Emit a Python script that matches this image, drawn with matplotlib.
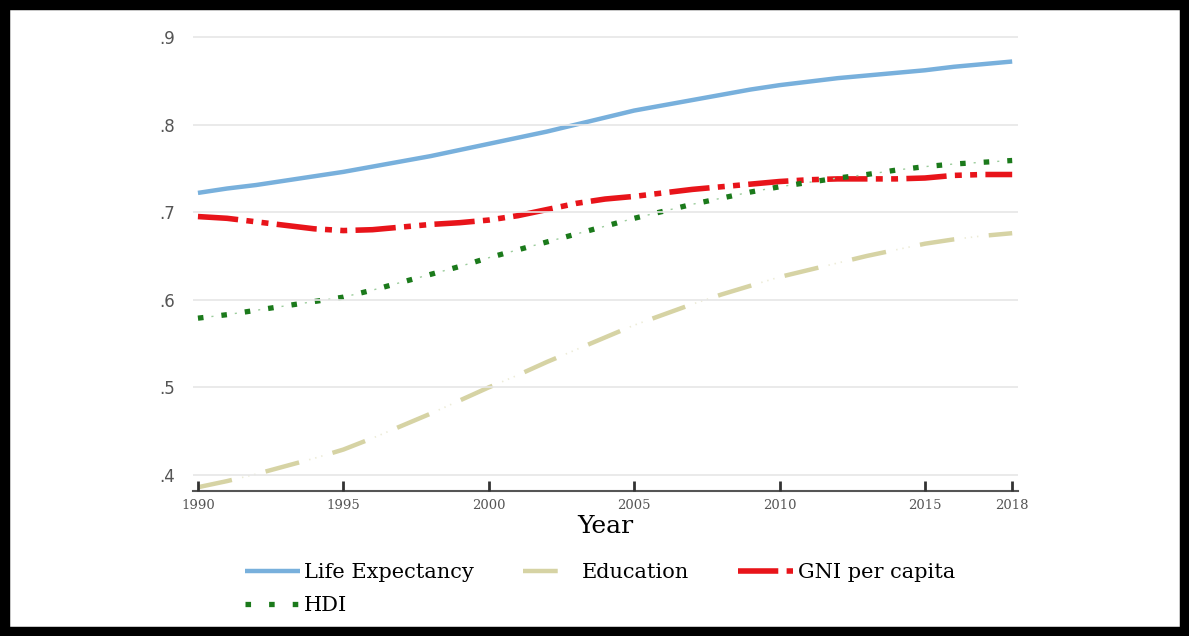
import matplotlib
matplotlib.use("Agg")
import matplotlib.pyplot as plt
from matplotlib.patches import Rectangle

plt.rcParams['font.family'] = ['DejaVu Serif']
plt.rcParams['lines.scale_dashes'] = False

years = list(range(1990, 2019))
life_exp = [.722, .727, .731, .736, .741, .746, .752, .758, .764, .771,
            .778, .785, .792, .800, .808, .816, .822, .828, .834, .840,
            .845, .849, .853, .856, .859, .862, .866, .869, .872]
education = [.386, .393, .401, .410, .419, .429, .442, .456, .470, .485,
             .500, .514, .529, .543, .557, .571, .583, .595, .606, .616,
             .626, .634, .642, .650, .657, .664, .669, .673, .676]
gni = [.695, .693, .689, .685, .681, .679, .680, .683, .686, .688,
       .691, .696, .703, .710, .715, .718, .722, .726, .729, .732,
       .735, .737, .738, .738, .738, .739, .742, .743, .743]
hdi = [.579, .583, .588, .593, .598, .603, .611, .620, .629, .638,
       .648, .657, .666, .675, .684, .693, .701, .709, .716, .723,
       .729, .734, .739, .743, .748, .752, .755, .757, .759]

xticks = [1990, 1995, 2000, 2005, 2010, 2015, 2018]
yticks = [.4, .5, .6, .7, .8, .9]
ylabels = ['.4', '.5', '.6', '.7', '.8', '.9']

fig = plt.figure(figsize=(11.89, 6.36), dpi=100)
ax = fig.add_axes([193 / 1189, 1 - 491 / 636, (1018 - 193) / 1189, (491 - 32.6) / 636])

le_line, = ax.plot(years, life_exp, color='#78b0dc', lw=3.2, solid_capstyle='butt')
ed_line, = ax.plot(years, education, color='#d6d3a4', lw=3.2, ls=(0, (25, 25)), dash_capstyle='butt')
ax.plot(years, education, color='#ecebd6', lw=1.2, ls=(17.5, (1, 3.5, 1, 3.5, 1, 40)))
gni_line, = ax.plot(years, gni, color='#e8141a', lw=4.0, ls=(0, (29, 6, 5, 6, 5, 6)), dash_capstyle='butt')
hdi_line, = ax.plot(years, hdi, color='#1b7a1b', lw=3.8, ls=(0, (4, 13)), dash_capstyle='butt')
ax.plot(years, hdi, color='#9ccc9c', lw=1.0, ls=(7.25, (1.5, 15.5)))

ax.set_xlim(1989.83, 2018.2)
ax.set_ylim(0.3817, 0.905)
ax.set_xticks(xticks)
ax.set_xticklabels([str(t) for t in xticks], fontsize=9.5, color='#555555')
ax.set_yticks(yticks)
ax.set_yticklabels(ylabels, fontsize=12, color='#555555', family='DejaVu Sans')
ax.tick_params(axis='x', direction='in', length=7, width=2, color='#333333', pad=6)
ax.tick_params(axis='y', length=0, pad=13)
ax.grid(axis='y', color='#e6e6e6', lw=1.2)
ax.set_axisbelow(False)
for s in ['top', 'right', 'left']:
    ax.spines[s].set_visible(False)
ax.spines['bottom'].set_color('#555555')
ax.spines['bottom'].set_linewidth(1.5)
ax.set_xlabel('Year', fontsize=18, labelpad=2)

# rows: Life Expectancy, Education, GNI per capita / HDI
handles = [le_line, hdi_line, ed_line, gni_line]
labels = ['Life Expectancy', 'HDI', 'Education', 'GNI per capita']
fig.legend(handles, labels, loc='upper left', bbox_to_anchor=(245 / 1189, 1 - 563 / 636), ncol=3,
           frameon=False, fontsize=15, handlelength=2.64, columnspacing=2.35, handletextpad=0.2,
           labelspacing=0.68, borderaxespad=0, borderpad=0)

# black frame round the picture
fig.patches.append(Rectangle((0, 0), 1, 1, transform=fig.transFigure, fill=False,
                             edgecolor='black', lw=14, zorder=10))

fig.savefig('out.png', dpi=100)
